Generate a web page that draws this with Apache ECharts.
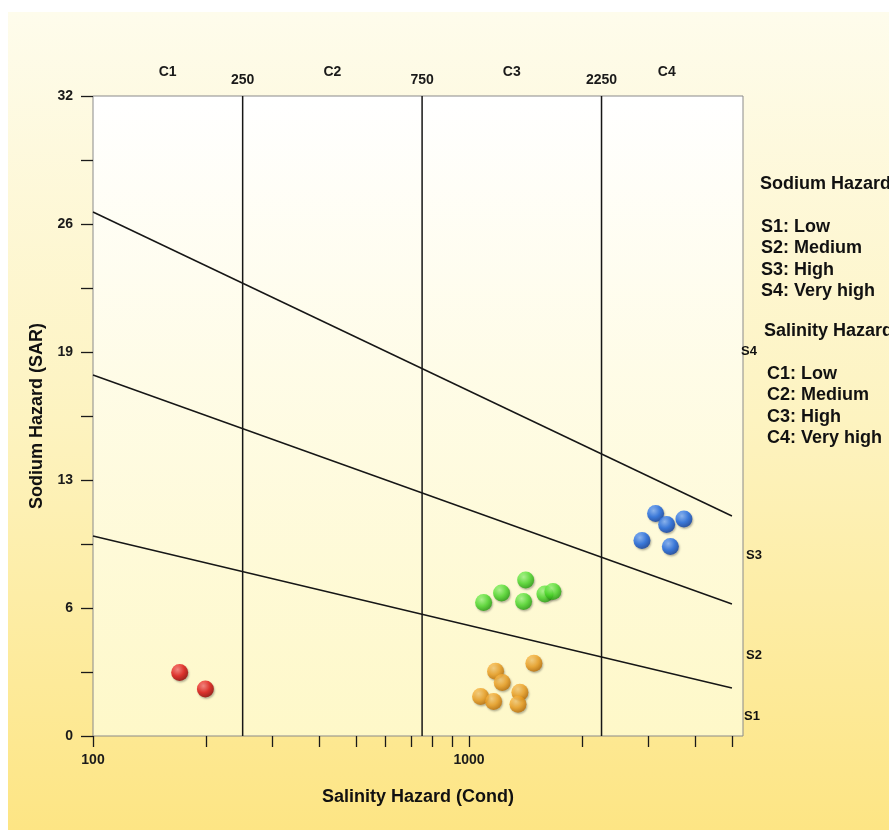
<!DOCTYPE html>
<html>
<head>
<meta charset="utf-8">
<script src="https://cdn.jsdelivr.net/npm/echarts@6/dist/echarts.min.js"></script>
<style>
html,body{margin:0;padding:0;background:#fff;}
#chart{width:889px;height:830px;}
</style>
</head>
<body>
<div id="chart"></div>
<script>
// ---- data ----
const xMin = 100, xMax = 5350;
const yMin = 0, yMax = 32, yStep = 6.4;
const xTickValues = [100,200,300,400,500,600,700,800,900,1000,2000,3000,4000,5000];
const xLabelValues = [100, 1000];
const boundaryValues = [250, 750, 2250];
const classCenters = [158, 433, 1299, 3354];
const classNames = ['C1', 'C2', 'C3', 'C4'];

const lineS34 = [[100, 26.2], [5000, 11.0]];
const lineS23 = [[100, 18.05], [5000, 6.6]];
const lineS12 = [[100, 10.0], [5000, 2.4]];

const redPts = [[170, 3.17], [199, 2.35]];
const orangePts = [[1487, 3.64], [1176, 3.24], [1225, 2.67], [1073, 1.97], [1162, 1.72], [1365, 2.19], [1349, 1.59]];
const greenPts = [[1093, 6.67], [1220, 7.15], [1414, 7.8], [1396, 6.72], [1591, 7.1], [1671, 7.22]];
const bluePts = [[3133, 11.12], [3352, 10.57], [3726, 10.85], [2882, 9.77], [3429, 9.47]];

const sodiumLegend = ['S1: Low', 'S2: Medium', 'S3: High', 'S4: Very high'];
const salinityLegend = ['C1: Low', 'C2: Medium', 'C3: High', 'C4: Very high'];

// ---- chart ----
const FONT = '"Liberation Sans", Arial, sans-serif';
const chart = echarts.init(document.getElementById('chart'));

function sphere(light, mid, dark) {
  return {
    type: 'radial', x: 0.38, y: 0.32, r: 0.72,
    colorStops: [
      {offset: 0, color: light},
      {offset: 0.55, color: mid},
      {offset: 1, color: dark}
    ]
  };
}
function scatter(name, data, fill) {
  return {
    name, type: 'scatter', data, symbolSize: 17, z: 5,
    itemStyle: {color: fill, shadowBlur: 2, shadowColor: 'rgba(0,0,0,0.35)', shadowOffsetX: 1, shadowOffsetY: 1.5}
  };
}
function line(data) {
  return {type: 'line', data, symbol: 'none', silent: true, z: 3,
    lineStyle: {color: '#161616', width: 1.5}};
}
const vLines = boundaryValues.map(v => line([[v, yMin], [v, yMax]]));

const textStyle = {fontFamily: FONT, fontWeight: 'bold', fill: '#111'};
const graphics = [
  {type: 'rect', left: 8, top: 12, z: -10, silent: true,
    shape: {width: 881, height: 818},
    style: {fill: new echarts.graphic.LinearGradient(0, 0, 0, 1, [
      {offset: 0, color: '#fefcec'}, {offset: 0.5, color: '#fdf3c0'}, {offset: 1, color: '#fde584'}])}},
  {type: 'text', left: 760, top: 175, style: Object.assign({text: 'Sodium Hazard', fontSize: 18}, textStyle)},
  {type: 'text', left: 764, top: 322, style: Object.assign({text: 'Salinity Hazard', fontSize: 18}, textStyle)}
];
sodiumLegend.forEach((t, i) => graphics.push({type: 'text', left: 761, top: 218 + i * 21.5, style: Object.assign({text: t, fontSize: 18}, textStyle)}));
salinityLegend.forEach((t, i) => graphics.push({type: 'text', left: 767, top: 365 + i * 21.5, style: Object.assign({text: t, fontSize: 18}, textStyle)}));
[['S4', 741, 345], ['S3', 746, 549], ['S2', 746, 649], ['S1', 744, 710]].forEach(s =>
  graphics.push({type: 'text', left: s[1], top: s[2], style: Object.assign({text: s[0], fontSize: 13}, textStyle)}));

const axisLabelBase = {fontFamily: FONT, fontWeight: 'bold', fontSize: 14, color: '#1a1a1a'};

chart.setOption({
  animation: false,
  backgroundColor: '#ffffff',
  graphic: graphics,
  grid: {left: 93, right: 146, top: 96, bottom: 94, show: true, borderColor: '#8a8a8a', borderWidth: 1,
    backgroundColor: new echarts.graphic.LinearGradient(0, 0, 0, 1, [
      {offset: 0, color: '#ffffff'}, {offset: 1, color: '#fef8c8'}])},
  xAxis: [
    {type: 'log', logBase: 10, min: xMin, max: xMax, position: 'bottom',
      name: 'Salinity Hazard (Cond)', nameLocation: 'middle', nameGap: 52,
      nameTextStyle: {fontFamily: FONT, fontWeight: 'bold', fontSize: 18, color: '#111'},
      axisLine: {show: false}, splitLine: {show: false},
      axisTick: {show: true, length: 11, customValues: xTickValues, lineStyle: {color: '#1a1a1a', width: 1.3}},
      axisLabel: Object.assign({customValues: xLabelValues, margin: 17, formatter: v => String(v)}, axisLabelBase)},
    {type: 'log', logBase: 10, min: xMin, max: xMax, position: 'top',
      axisLine: {show: false}, splitLine: {show: false}, axisTick: {show: false},
      axisLabel: Object.assign({customValues: boundaryValues, margin: 9, formatter: v => String(v)}, axisLabelBase)},
    {type: 'log', logBase: 10, min: xMin, max: xMax, position: 'top', offset: 8,
      axisLine: {show: false}, splitLine: {show: false}, axisTick: {show: false},
      axisLabel: Object.assign({customValues: classCenters, margin: 9,
        formatter: v => classNames[classCenters.findIndex(c => Math.abs(c - v) < 1)] || ''}, axisLabelBase)}
  ],
  yAxis: {type: 'value', min: yMin, max: yMax, interval: yStep,
    name: 'Sodium Hazard (SAR)', nameLocation: 'middle', nameGap: 47, nameRotate: 90,
    nameTextStyle: {fontFamily: FONT, fontWeight: 'bold', fontSize: 18, color: '#111'},
    axisLine: {show: false}, splitLine: {show: false},
    axisTick: {show: true, length: 12, lineStyle: {color: '#1a1a1a', width: 1.3}},
    minorTick: {show: true, splitNumber: 2, length: 12, lineStyle: {color: '#1a1a1a', width: 1.3}},
    axisLabel: Object.assign({margin: 20, formatter: v => String(Math.round(v))}, axisLabelBase)},
  series: [
    ...vLines,
    line(lineS34), line(lineS23), line(lineS12),
    scatter('red', redPts, sphere('#ff7a7a', '#e41212', '#8c0000')),
    scatter('orange', orangePts, sphere('#ffd27a', '#f2a221', '#b86a00')),
    scatter('green', greenPts, sphere('#a8ff8a', '#4ee02b', '#219a0c')),
    scatter('blue', bluePts, sphere('#7fb2ff', '#1a68e6', '#0a3a9a'))
  ]
});
</script>
</body>
</html>
